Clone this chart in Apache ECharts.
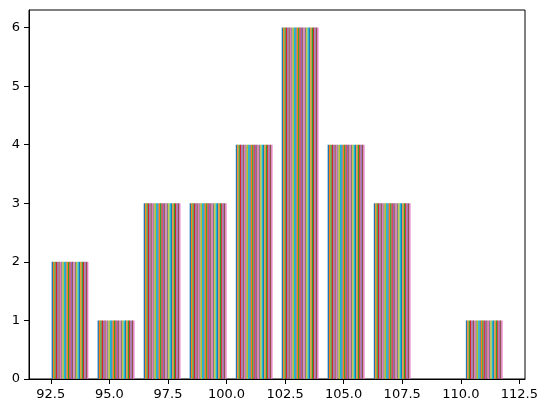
<!DOCTYPE html>
<html>
<head>
<meta charset="utf-8">
<script src="https://cdn.jsdelivr.net/npm/echarts@6/dist/echarts.min.js"></script>
<style>html,body{margin:0;padding:0;background:#fff;}#c{width:549px;height:411px;}</style>
</head>
<body>
<div id="c"></div>
<script>
// histogram bin edges and counts (identical for each dataset)
const binEdges = [92.34, 94.30, 96.27, 98.23, 100.20, 102.16, 104.12, 106.09, 108.05, 110.02, 111.98];
const counts = [2, 1, 3, 3, 4, 6, 4, 3, 0, 1];
const numDatasets = 27;
const xTicks = [92.5, 95.0, 97.5, 100.0, 102.5, 105.0, 107.5, 110.0, 112.5];
const yTicks = [0, 1, 2, 3, 4, 5, 6];
const palette = ['#1f77b4','#ff7f0e','#2ca02c','#d62728','#9467bd','#8c564b','#e377c2','#7f7f7f','#bcbd22','#17becf'];

const items = [];
for (let b = 0; b < counts.length; b++) {
  for (let k = 0; k < numDatasets; k++) {
    items.push([b, k, counts[b]]);
  }
}

const chart = echarts.init(document.getElementById('c'), null, {renderer: 'canvas'});
const font = 'DejaVu Sans';
chart.setOption({
  animation: false,
  grid: {left: 29, right: 24, top: 10, bottom: 32, show: true, borderColor: '#000', borderWidth: 1, backgroundColor: 'transparent'},
  xAxis: {
    type: 'value', min: 91.57, max: 112.74,
    axisLine: {show: true, onZero: false, lineStyle: {color: '#000', width: 1}},
    axisTick: {show: true, inside: false, length: 5, lineStyle: {color: '#000'}, customValues: xTicks},
    axisLabel: {color: '#000', fontFamily: font, fontSize: 13, margin: 9, customValues: xTicks,
      formatter: v => v.toFixed(1)},
    splitLine: {show: false}
  },
  yAxis: {
    type: 'value', min: 0, max: 6.3,
    axisLine: {show: true, lineStyle: {color: '#000', width: 1}},
    axisTick: {show: true, inside: false, length: 5, lineStyle: {color: '#000'}, customValues: yTicks},
    axisLabel: {color: '#000', fontFamily: font, fontSize: 13, margin: 9, customValues: yTicks},
    splitLine: {show: false}
  },
  series: [{
    type: 'custom',
    data: items,
    encode: {x: 0, y: 2},
    renderItem: function (params, api) {
      const b = api.value(0), k = api.value(1), h = api.value(2);
      if (!h) return null;
      const w = binEdges[b + 1] - binEdges[b];
      const sub = 0.8 * w / numDatasets;
      const x0 = binEdges[b] + 0.1 * w + k * sub;
      const p0 = api.coord([x0, h]);
      const p1 = api.coord([x0 + sub, 0]);
      return {
        type: 'rect',
        shape: {x: p0[0], y: p0[1], width: p1[0] - p0[0], height: p1[1] - p0[1]},
        style: {fill: palette[k % palette.length]}
      };
    }
  }]
});
</script>
</body>
</html>
